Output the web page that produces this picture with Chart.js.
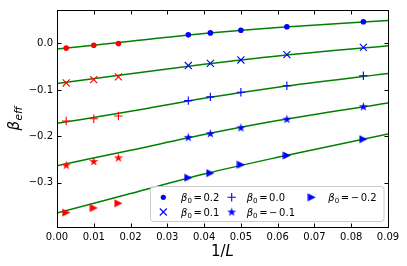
<!DOCTYPE html>
<html>
<head>
<meta charset="utf-8">
<script src="https://cdn.jsdelivr.net/npm/chart.js@4/dist/chart.umd.min.js"></script>
<style>
html,body{margin:0;padding:0;background:#fff;}
#wrap{width:407px;height:266px;}
</style>
</head>
<body>
<div id="wrap"><canvas id="c" width="407" height="266"></canvas></div>
<script>
// ---- data ----
const xRed  = [0.0025, 0.01, 0.0167];
const xBlue = [0.0357, 0.0417, 0.05, 0.0625, 0.0833];
const xFit  = [0, 0.02, 0.04, 0.06, 0.09];

const labels = ['0.2', '0.1', '0.0', '\u22120.1', '\u22120.2'];

const red02  = [-0.010, -0.004, 0.000];
const blue02 = [0.0185, 0.0227, 0.0283, 0.036, 0.0468];
const fit02  = [-0.012, 0.005, 0.0215, 0.0345, 0.0496];

const red01  = [-0.085, -0.078, -0.072];
const blue01 = [-0.0475, -0.043, -0.0355, -0.024, -0.0085];
const fit01  = [-0.086, -0.065, -0.045, -0.027, -0.005];

const red00  = [-0.167, -0.162, -0.156];
const blue00 = [-0.123, -0.115, -0.105, -0.091, -0.0695];
const fit00  = [-0.172, -0.146, -0.118, -0.094, -0.0645];

const redm01  = [-0.262, -0.254, -0.246];
const bluem01 = [-0.202, -0.194, -0.1815, -0.163, -0.136];
const fitm01  = [-0.263, -0.230, -0.196, -0.166, -0.128];

const redm02  = [-0.364, -0.354, -0.344];
const bluem02 = [-0.289, -0.279, -0.261, -0.241, -0.206];
const fitm02  = [-0.365, -0.323, -0.281, -0.245, -0.195];

const xTicks = [0, 0.01, 0.02, 0.03, 0.04, 0.05, 0.06, 0.07, 0.08, 0.09];
const yTicks = [-0.3, -0.2, -0.1, 0.0];

// ---- marker images ----
function starImg(color){
  const c=document.createElement('canvas'); c.width=11; c.height=11;
  const g=c.getContext('2d'); g.fillStyle=color; g.beginPath();
  const R=4.8, r=R*0.382, cx=5.5, cy=5.7;
  for(let i=0;i<10;i++){
    const a=-Math.PI/2+i*Math.PI/5, rr=(i%2===0)?R:r;
    const px=cx+rr*Math.cos(a), py=cy+rr*Math.sin(a);
    i?g.lineTo(px,py):g.moveTo(px,py);
  }
  g.closePath(); g.fill(); return c;
}
function triImg(color){
  const c=document.createElement('canvas'); c.width=9; c.height=9;
  const g=c.getContext('2d'); g.fillStyle=color; g.beginPath();
  g.moveTo(8.5,4.5); g.lineTo(0.5,0.5); g.lineTo(0.5,8.5); g.closePath(); g.fill(); return c;
}
const BLUE='#0000ff', RED='#ff0000', GREEN='#008000';
const starB=starImg(BLUE), starR=starImg(RED), triB=triImg(BLUE), triR=triImg(RED);

function pts(xs, ys){ return xs.map((x,i)=>({x:x, y:ys[i]})); }

const markerSpecs = [
  {red:red02, blue:blue02, fit:fit02, style:{pointStyle:'circle', pointRadius:2.8, pointBorderWidth:0}, imgR:null, imgB:null},
  {red:red01, blue:blue01, fit:fit01, style:{pointStyle:'crossRot', pointRadius:5, pointBorderWidth:1.1}},
  {red:red00, blue:blue00, fit:fit00, style:{pointStyle:'cross', pointRadius:4.2, pointBorderWidth:1.1}},
  {red:redm01, blue:bluem01, fit:fitm01, style:{pointRadius:4.5, pointBorderWidth:0}, imgR:starR, imgB:starB},
  {red:redm02, blue:bluem02, fit:fitm02, style:{pointRadius:4.5, pointBorderWidth:0}, imgR:triR, imgB:triB}
];

const datasets=[];
markerSpecs.forEach((m)=>{
  datasets.push({type:'scatter', data:pts(xRed,m.red), showLine:false, order:1,
    pointStyle: m.imgR || m.style.pointStyle, pointRadius:m.style.pointRadius,
    pointBorderWidth:m.style.pointBorderWidth, pointBackgroundColor:RED, pointBorderColor:RED});
  datasets.push({type:'scatter', data:pts(xBlue,m.blue), showLine:false, order:1,
    pointStyle: m.imgB || m.style.pointStyle, pointRadius:m.style.pointRadius,
    pointBorderWidth:m.style.pointBorderWidth, pointBackgroundColor:BLUE, pointBorderColor:BLUE});
  datasets.push({type:'line', data:pts(xFit,m.fit), showLine:true, order:2,
    borderColor:GREEN, borderWidth:1.5, pointRadius:0, cubicInterpolationMode:'monotone', fill:false});
});

function fmt(v, d){ return (v<0?'\u2212':'') + Math.abs(v).toFixed(d); }

const FONT='"DejaVu Sans", sans-serif';

const frame = {
  id:'frame',
  afterDraw(chart){
    const {ctx, chartArea:a, scales:{x,y}} = chart;
    ctx.save();
    ctx.strokeStyle='#000'; ctx.lineWidth=1;
    const L=Math.round(a.left)+0.5, T=Math.round(a.top)+0.5, R=Math.round(a.right)+0.5, B=Math.round(a.bottom)+0.5;
    ctx.strokeRect(L, T, R-L, B-T);
    ctx.beginPath();
    x.ticks.forEach(t=>{
      const px=Math.round(x.getPixelForValue(t.value))+0.5;
      ctx.moveTo(px,B); ctx.lineTo(px,B-4); ctx.moveTo(px,T); ctx.lineTo(px,T+4);
    });
    y.ticks.forEach(t=>{
      const py=Math.round(y.getPixelForValue(t.value))+0.5;
      ctx.moveTo(L,py); ctx.lineTo(L+4,py); ctx.moveTo(R,py); ctx.lineTo(R-4,py);
    });
    ctx.stroke();

    // x title "1/L"
    ctx.fillStyle='#000'; ctx.textBaseline='alphabetic';
    ctx.font='15px '+FONT;
    const w1=ctx.measureText('1/').width;
    ctx.font='italic 15px '+FONT;
    const w2=ctx.measureText('L').width;
    const cx=(a.left+a.right)/2, bx=cx-(w1+w2)/2, by=255.5;
    ctx.font='15px '+FONT; ctx.fillText('1/', bx, by);
    ctx.font='italic 15px '+FONT; ctx.fillText('L', bx+w1, by);

    // y title beta_eff
    ctx.save();
    ctx.translate(18.5, (a.top+a.bottom)/2);
    ctx.rotate(-Math.PI/2);
    ctx.font='italic 15px '+FONT;
    const wb=ctx.measureText('\u03b2').width;
    ctx.font='italic 10.5px '+FONT;
    const we=ctx.measureText('eff').width;
    const sx=-(wb+we+0.5)/2;
    ctx.font='italic 15px '+FONT; ctx.fillText('\u03b2', sx, 0);
    ctx.font='italic 10.5px '+FONT; ctx.fillText('eff', sx+wb+0.5, 3);
    ctx.restore();

    // legend
    const lx=150.5, ly=186.5, lw=233.5, lh=35;
    ctx.beginPath();
    if(ctx.roundRect) ctx.roundRect(lx,ly,lw,lh,3); else ctx.rect(lx,ly,lw,lh);
    ctx.fillStyle='rgba(255,255,255,0.8)'; ctx.fill();
    ctx.strokeStyle='#cccccc'; ctx.lineWidth=1; ctx.stroke();

    const pos=[{mx:163.3,my:197.3,tx:181},{mx:163.3,my:212,tx:181},{mx:231.7,my:197.3,tx:246.7},{mx:231.7,my:212,tx:246.7},{mx:311.7,my:197.3,tx:328.3}];
    pos.forEach((p,i)=>{
      ctx.fillStyle=BLUE; ctx.strokeStyle=BLUE; ctx.lineWidth=1.1;
      if(i===0){ ctx.beginPath(); ctx.arc(p.mx,p.my,2.6,0,Math.PI*2); ctx.fill(); }
      else if(i===1){ const r=3.5; ctx.beginPath(); ctx.moveTo(p.mx-r,p.my-r); ctx.lineTo(p.mx+r,p.my+r); ctx.moveTo(p.mx-r,p.my+r); ctx.lineTo(p.mx+r,p.my-r); ctx.stroke(); }
      else if(i===2){ const r=4.2; ctx.beginPath(); ctx.moveTo(p.mx-r,p.my); ctx.lineTo(p.mx+r,p.my); ctx.moveTo(p.mx,p.my-r); ctx.lineTo(p.mx,p.my+r); ctx.stroke(); }
      else if(i===3){ ctx.drawImage(starB, p.mx-5.5, p.my-5.5); }
      else { ctx.drawImage(triB, p.mx-4.5, p.my-4.5); }
      ctx.fillStyle='#000';
      const base=p.my+3.6;
      let x0=p.tx;
      ctx.font='italic 10px '+FONT; ctx.fillText('\u03b2', x0, base); x0+=ctx.measureText('\u03b2').width;
      ctx.font='7px '+FONT; ctx.fillText('0', x0, base+2); x0+=ctx.measureText('0').width+1.6;
      ctx.font='10px '+FONT; ctx.fillText('=', x0, base); x0+=ctx.measureText('=').width+1.6;
      let s=labels[i];
      if(s[0]==='\u2212'){ ctx.fillText('\u2212', x0, base); x0+=ctx.measureText('\u2212').width+1.6; s=s.slice(1); }
      ctx.fillText(s, x0, base);
    });
    ctx.restore();
  }
};

new Chart(document.getElementById('c'), {
  type:'scatter',
  data:{datasets:datasets},
  plugins:[frame],
  options:{
    responsive:false, animation:false,
    layout:{padding:{left:0, right:19, top:6, bottom:0}},
    plugins:{legend:{display:false}, tooltip:{enabled:false}},
    scales:{
      x:{type:'linear', min:0, max:0.09,
        afterBuildTicks:(s)=>{ s.ticks = xTicks.map(v=>({value:v})); },
        afterFit:(s)=>{ s.height=39; },
        grid:{display:false, drawTicks:false}, border:{display:false},
        ticks:{padding:4, color:'#000', font:{family:'DejaVu Sans', size:10}, maxRotation:0, autoSkip:false,
          callback:(v)=>fmt(v,2)}},
      y:{type:'linear', min:-0.395, max:0.072,
        afterBuildTicks:(s)=>{ s.ticks = yTicks.map(v=>({value:v})); },
        afterFit:(s)=>{ s.width=57; },
        grid:{display:false, drawTicks:false}, border:{display:false},
        ticks:{padding:4, color:'#000', font:{family:'DejaVu Sans', size:10}, autoSkip:false,
          callback:(v)=>fmt(v,1)}}
    }
  }
});
</script>
</body>
</html>
